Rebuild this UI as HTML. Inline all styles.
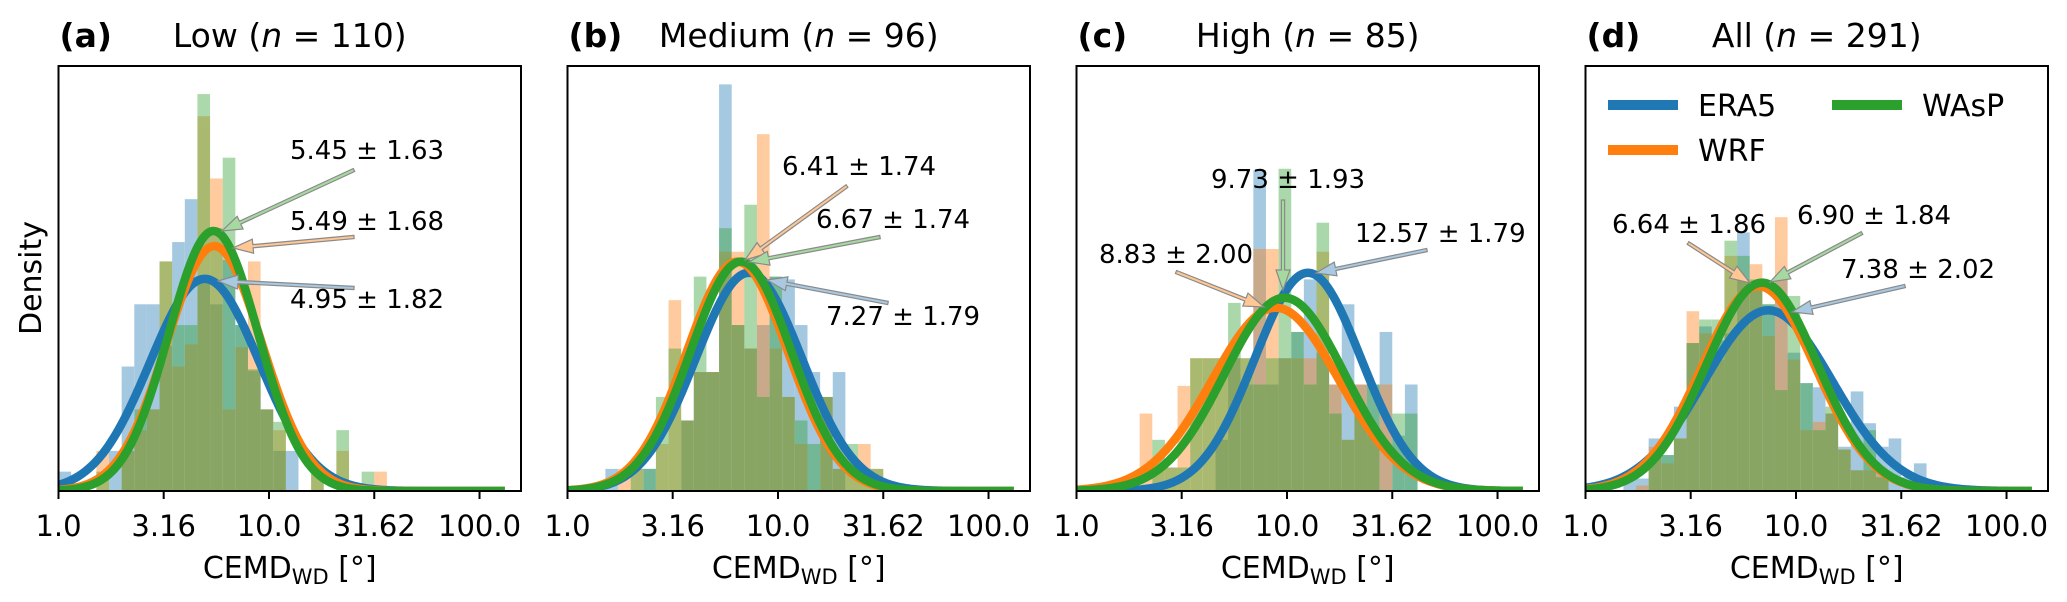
<!DOCTYPE html>
<html><head><meta charset="utf-8"><style>
html,body{margin:0;padding:0;background:#fff;}
svg{display:block;font-family:"DejaVu Sans","Liberation Sans",sans-serif;}
</style></head><body>
<svg id="fig" width="2067" height="602" viewBox="0 0 2067 602" xmlns="http://www.w3.org/2000/svg"></svg>
<script>
// ---- data ----
const panelLetters = ["(a)","(b)","(c)","(d)"];
const panelNames = ["Low","Medium","High","All"];
const panelN = [110,96,85,291];
const seriesNames = ["ERA5","WRF","WAsP"];
const tickValues = [1,3.16,10,31.62,100];
const tickLabels = ["1.0","3.16","10.0","31.62","100.0"];
const binWidthLog = 0.06;
// fitted geometric mean / geometric std: [ERA5, WRF, WAsP] per panel
const fitMu = [[4.95,5.49,5.45],[7.27,6.41,6.67],[12.57,8.83,9.73],[7.38,6.64,6.90]];
const fitSd = [[1.82,1.68,1.63],[1.79,1.74,1.74],[1.79,2.00,1.93],[2.02,1.86,1.84]];
// histogram densities per log bin (bins start at 1.0, width 0.06 decades)
const histA_ERA5 = [0.14,0,0,0,0.29,0.9,1.35,1.35,1.05,1.8,2.11,1.53,1.35,1.67,1.2,0.87,0.59,0.29,0.29,0,0,0,0,0,0,0,0,0];
const histA_WRF  = [0,0,0,0.29,0,0.29,0.44,0.59,1.66,0.9,1.06,2.71,2.26,0.59,1.04,1.66,0.59,0.44,0,0,0.14,0,0.29,0,0,0.14,0,0];
const histA_WAsP = [0,0,0,0.14,0,0.29,0.59,0.59,1.66,1.2,1.2,2.87,1.9,2.41,1.2,0.88,0.59,0.5,0,0,0.14,0,0.44,0,0.14,0,0,0];
const histB_ERA5 = [0,0,0,0.16,0,0,0.16,0,0,0.51,0.86,0.86,2.94,1.2,1.03,1.2,1.55,1.53,1.2,0.86,0.68,0.86,0,0,0,0,0,0];
const histB_WRF  = [0,0,0,0,0.16,0.16,0,0.34,1.38,0.51,0.86,0.86,1.73,1.73,1.03,2.58,1.03,0.68,0.34,0,0.68,0.16,0.16,0.34,0.16,0,0,0];
const histB_WAsP = [0,0,0,0,0,0.16,0.16,0.68,1.03,0.51,1.55,0.86,1.9,1.2,2.07,0.68,1.55,0.68,0.51,0.34,0.68,0.16,0.34,0.16,0.16,0,0,0];
const histC_ERA5 = [0,0,0,0,0,0,0,0,0,0,0,0.37,0.96,0.77,2.32,0.77,0.96,1.15,1.53,1.0,0.77,1.35,0.77,0.77,1.15,0.4,0.77,0];
const histC_WRF  = [0,0,0,0,0,0.56,0.17,0.17,0.76,0.96,0.96,0.96,0.96,0.96,1.75,1.75,0.96,0.96,0.96,1.73,0.77,0.37,0.77,0.4,0.77,0,0,0];
const histC_WAsP = [0,0,0,0,0,0,0.37,0.17,0.17,0.96,0.96,0.96,1.36,0.96,0.77,0.96,2.33,1.15,0.77,1.94,0.56,0.37,0.56,0.77,0,0.56,0.56,0];
const histD_ERA5 = [0,0,0,0.08,0.09,0.38,0.26,0.61,1.07,1.19,1.09,1.14,1.87,1.45,1.35,1.53,1.0,0.78,0.75,0.56,0.32,0.72,0.49,0.32,0.38,0.1,0.2,0];
const histD_WRF  = [0,0,0,0,0.04,0.32,0.2,0.38,1.3,1.14,0.95,1.7,1.53,1.64,1.12,1.98,0.95,0.44,0.5,0.56,0.3,0.15,0.15,0.15,0,0,0,0];
const histD_WAsP = [0,0,0,0,0,0.26,0.26,0.38,1.07,1.24,1.24,1.81,1.7,1.53,1.35,0.73,1.41,0.78,0.44,0.61,0.3,0.15,0.44,0.1,0,0,0,0];
const hists = [[histA_ERA5,histA_WRF,histA_WAsP],[histB_ERA5,histB_WRF,histB_WAsP],[histC_ERA5,histC_WRF,histC_WAsP],[histD_ERA5,histD_WRF,histD_WAsP]];

// ---- layout ----
const NS="http://www.w3.org/2000/svg";
const svg=document.getElementById('fig');
const panelLeft=[58.5,567.5,1076.5,1585.5];
const axW=462.5, axTop=66, axBot=491;
const xMaxLog=2.197, yMax=3.073;
const colors=["#1f77b4","#ff7f0e","#2ca02c"];
const lightCols=["#a9c9e2","#ffc794","#a6d9a0"];
function el(tag,attrs,parent){const e=document.createElementNS(NS,tag);for(const k in attrs)e.setAttribute(k,attrs[k]);(parent||svg).appendChild(e);return e;}
function xs(p,v){return panelLeft[p]+Math.log10(v)/xMaxLog*axW;}
function xsl(p,l){return panelLeft[p]+l/xMaxLog*axW;}
function ys(d){return axBot-d/yMax*(axBot-axTop);}

// annotation layout (label anchor + arrow tail/head), in pixels
const ann=[
 [[290,308,354,288,218,281],[290,230,354,237,233,248],[290,159,354,170,222,231]],
 [[826,325,888,303,767,280],[782,175,847,186,745,260],[816,228,880,237,749,262]],
 [[1355,242,1427,250,1316,273],[1099,263,1176,272,1264,307],[1211,188,1283,200,1283,290]],
 [[1841,278,1905,286,1792,312],[1612,233,1688,243,1750,283],[1797,224,1862,233,1770,282]]
];

for(let p=0;p<4;p++){
  const g=el('g',{});
  
  
  const clipId='clip'+p;
  const cp=el('clipPath',{id:clipId},g);
  el('rect',{x:panelLeft[p],y:axTop,width:axW,height:axBot-axTop},cp);
  const plot=el('g',{'clip-path':'url(#'+clipId+')'},g);
  for(let s=0;s<3;s++){
    const hg=el('g',{opacity:0.4},plot);
    
    
    const arr=hists[p][s];
    for(let k=0;k<arr.length;k++){
      if(arr[k]<=0)continue;
      const x0=xsl(p,k*binWidthLog), x1=xsl(p,(k+1)*binWidthLog);
      const r=el('rect',{x:x0,y:ys(arr[k]),width:x1-x0,height:axBot-ys(arr[k]),fill:colors[s]},hg);
      
      
    }
  }
  for(let s=0;s<3;s++){
    const m=Math.log10(fitMu[p][s]), sd=Math.log10(fitSd[p][s]);
    let d='';
    for(let i=0;i<=300;i++){
      const t=i/300*2.12;
      const f=Math.exp(-(t-m)*(t-m)/(2*sd*sd))/(sd*Math.sqrt(2*Math.PI));
      d+=(i?'L':'M')+xsl(p,t).toFixed(2)+' '+ys(f).toFixed(2);
    }
    const c=el('path',{d:d,fill:'none',stroke:colors[s],'stroke-width':8.5,'stroke-linejoin':'round'},plot);
    
    
  }
  for(let s=0;s<3;s++){
    const a=ann[p][s];
    const [tx,ty,x0,y0,x1,y1]=[a[0],a[1],a[2],a[3],a[4],a[5]];
    const dx=x1-x0, dy=y1-y0, L=Math.hypot(dx,dy), ux=dx/L, uy=dy/L, nx=-uy, ny=ux;
    const hl=20, hw=7, tw=1.6;
    const bx=x1-ux*hl, by=y1-uy*hl;
    const pts=[[x0+nx*tw,y0+ny*tw],[bx+nx*tw,by+ny*tw],[bx+nx*hw,by+ny*hw],[x1,y1],[bx-nx*hw,by-ny*hw],[bx-nx*tw,by-ny*tw],[x0-nx*tw,y0-ny*tw]];
    const ar=el('polygon',{points:pts.map(q=>q[0].toFixed(1)+','+q[1].toFixed(1)).join(' '),fill:lightCols[s],stroke:'#8a8a8a','stroke-width':1.2},g);
    
    
    const t=el('text',{x:tx,y:ty,'font-size':26,fill:'#000'},g);
    t.textContent=fitMu[p][s].toFixed(2)+' \u00b1 '+fitSd[p][s].toFixed(2);
    
    
  }
  const fr=el('rect',{x:panelLeft[p],y:axTop,width:axW,height:axBot-axTop,fill:'none',stroke:'#000','stroke-width':2},g);
  
  
  for(let i=0;i<tickValues.length;i++){
    const x=xs(p,tickValues[i]);
    const tk=el('line',{x1:x,x2:x,y1:axBot,y2:axBot+8,stroke:'#000','stroke-width':2},g);
    
    
    const tl=el('text',{x:x,y:536,'font-size':29,'text-anchor':'middle'},g);
    tl.textContent=tickLabels[i];
    
    
  }
  const cx=panelLeft[p]+axW/2;
  const xl=el('text',{x:cx,y:578,'font-size':30,'text-anchor':'middle'},g);
  
  
  xl.appendChild(document.createTextNode('CEMD'));
  const sub=el('tspan',{'font-size':21,dy:6},xl); sub.textContent='WD';
  const rest=el('tspan',{dy:-6},xl); rest.textContent=' [\u00b0]';
  const lt=el('text',{x:panelLeft[p]+1,y:47,'font-size':33,'font-weight':'bold'},g);
  lt.textContent=panelLetters[p];
  
  
  const tt=el('text',{x:cx,y:47,'font-size':33,'text-anchor':'middle'},g);
  
  
  tt.appendChild(document.createTextNode(panelNames[p]+' ('));
  const it=el('tspan',{'font-style':'italic'},tt); it.textContent='n';
  tt.appendChild(document.createTextNode(' = '+panelN[p]+')'));
}
const yl=el('text',{x:0,y:0,'font-size':30,'text-anchor':'middle',transform:'translate(41,278) rotate(-90)'});
yl.textContent='Density';


const legPos=[[1608,105,1698,116],[1608,150,1698,161],[1832,105,1922,116]];
for(let s=0;s<3;s++){
  const lg=el('g',{});
  
  
  const q=legPos[s];
  el('line',{x1:q[0],x2:q[0]+70,y1:q[1],y2:q[1],stroke:colors[s],'stroke-width':10},lg);
  const t=el('text',{x:q[2],y:q[3],'font-size':30},lg);
  t.textContent=seriesNames[s];
}
</script>
</body></html>
